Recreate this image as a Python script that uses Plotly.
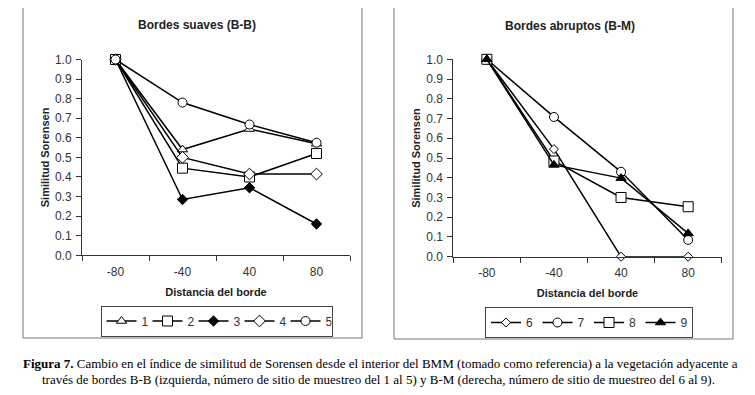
import plotly.graph_objects as go

distances = ["-80", "-40", "40", "80"]

# Bordes suaves (B-B)
s1 = [1.0, 0.54, 0.645, 0.57]
s2 = [1.0, 0.445, 0.40, 0.52]
s3 = [1.0, 0.285, 0.345, 0.16]
s4 = [1.0, 0.50, 0.415, 0.415]
s5 = [1.0, 0.78, 0.668, 0.575]

# Bordes abruptos (B-M)
s6 = [1.0, 0.545, 0.0, 0.0]
s7 = [1.0, 0.708, 0.43, 0.085]
s8 = [1.0, 0.485, 0.30, 0.253]
s9 = [1.0, 0.465, 0.398, 0.118]

ytick_vals = [0.0, 0.1, 0.2, 0.3, 0.4, 0.5, 0.6, 0.7, 0.8, 0.9, 1.0]

# page has an 8px body margin: figure is drawn 8px right/down of the window corner
OFF = 8
W, H = 755 - OFF, 395 - OFF
FONT = "Liberation Sans, Arial, sans-serif"

def px_x(p):
    return (p - OFF) / W

def px_y(p):
    return 1 - (p - OFF) / H

fig = go.Figure()

left = [
    ("1", s1, "triangle-up", "white", 9),
    ("2", s2, "square", "white", 10),
    ("3", s3, "diamond", "black", 8),
    ("4", s4, "diamond", "white", 9),
    ("5", s5, "circle", "white", 9),
]
right = [
    ("6", s6, "diamond", "white", 7),
    ("7", s7, "circle", "white", 9),
    ("8", s8, "square", "white", 10),
    ("9", s9, "triangle-up", "black", 9),
]

for name, vals, sym, fill, size in left:
    fig.add_trace(go.Scatter(
        x=distances, y=vals, name=name, mode="lines+markers",
        line=dict(color="black", width=1.5),
        marker=dict(symbol=sym, color=fill, size=size, line=dict(color="black", width=1)),
        cliponaxis=False, xaxis="x", yaxis="y", legend="legend",
    ))
for name, vals, sym, fill, size in right:
    fig.add_trace(go.Scatter(
        x=distances, y=vals, name=name, mode="lines+markers",
        line=dict(color="black", width=1.5),
        marker=dict(symbol=sym, color=fill, size=size, line=dict(color="black", width=1)),
        cliponaxis=False, xaxis="x2", yaxis="y2", legend="legend2",
    ))

axis_common = dict(
    showline=True, linecolor="#333", linewidth=1, ticks="outside",
    ticklen=5, tickcolor="#333", showgrid=False, zeroline=False,
    tickfont=dict(family=FONT, size=12, color="#333"),
)

xcommon = dict(axis_common, type="category", tickson="boundaries",
               range=[-0.5, 3.5], ticklabelstandoff=5,
               title=dict(text="<b>Distancia del borde</b>",
                          font=dict(family=FONT, size=11, color="#222"), standoff=10))
ycommon = dict(axis_common, range=[0, 1.0], tickvals=ytick_vals, tickformat=".1f",
               ticklabelstandoff=2,
               title=dict(text="<b>Similitud Sorensen</b>",
                          font=dict(family=FONT, size=11, color="#222"), standoff=3))

leg_common = dict(
    orientation="h", xanchor="center", yanchor="middle",
    bordercolor="#444", borderwidth=1, bgcolor="white",
    entrywidthmode="pixels", itemwidth=30,
    font=dict(family=FONT, size=12, color="#333"),
)

fig.update_layout(
    width=W, height=H,
    margin=dict(l=0, r=0, t=0, b=0, autoexpand=False),
    paper_bgcolor="white", plot_bgcolor="white",
    showlegend=True,
    xaxis=dict(xcommon, domain=[px_x(82), px_x(350)], anchor="y"),
    yaxis=dict(ycommon, domain=[px_y(255.3), px_y(59.5)], anchor="x"),
    xaxis2=dict(xcommon, domain=[px_x(453.3), px_x(721.7)], anchor="y2"),
    yaxis2=dict(ycommon, domain=[px_y(256.7), px_y(59.3)], anchor="x2"),
    legend=dict(leg_common, x=px_x(216.5), y=px_y(321), entrywidth=1),
    legend2=dict(leg_common, x=px_x(589), y=px_y(322.5), entrywidth=6.5),
    shapes=[
        dict(type="rect", xref="paper", yref="paper",
             x0=px_x(23), x1=px_x(362), y0=px_y(338), y1=px_y(4),
             line=dict(color="#777", width=1)),
        dict(type="rect", xref="paper", yref="paper",
             x0=px_x(394), x1=px_x(733), y0=px_y(339), y1=px_y(4),
             line=dict(color="#777", width=1)),
    ],
    annotations=[
        dict(text="<b>Bordes suaves (B-B)</b>", xref="paper", yref="paper",
             x=px_x(197), y=px_y(25), showarrow=False, xanchor="center", yanchor="middle",
             font=dict(family=FONT, size=12, color="#222")),
        dict(text="<b>Bordes abruptos (B-M)</b>", xref="paper", yref="paper",
             x=px_x(570), y=px_y(26), showarrow=False, xanchor="center", yanchor="middle",
             font=dict(family=FONT, size=12, color="#222")),
        dict(text="<b>Figura 7.</b> Cambio en el índice de similitud de Sorensen desde el interior del BMM (tomado como referencia) a la vegetación adyacente a",
             xref="paper", yref="paper", x=px_x(380), y=px_y(363), showarrow=False,
             xanchor="center", yanchor="middle",
             font=dict(family="Liberation Serif, Times New Roman, serif", size=13, color="black")),
        dict(text="través de bordes B-B (izquierda, número de sitio de muestreo del 1 al 5) y B-M (derecha, número de sitio de muestreo del 6 al 9).",
             xref="paper", yref="paper", x=px_x(378), y=px_y(379), showarrow=False,
             xanchor="center", yanchor="middle",
             font=dict(family="Liberation Serif, Times New Roman, serif", size=13, color="black")),
    ],
)

fig.write_html("out.html")
